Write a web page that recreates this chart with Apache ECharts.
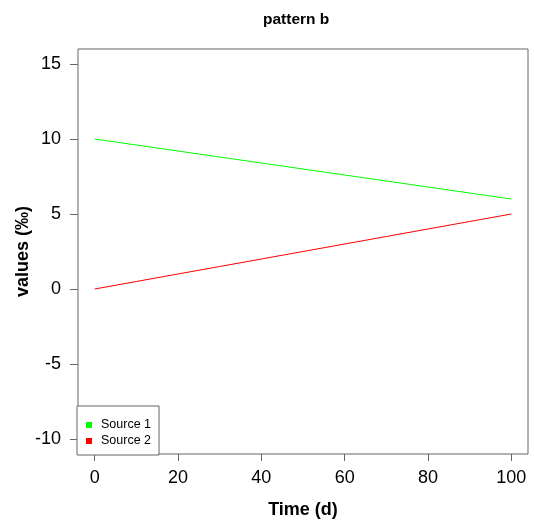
<!DOCTYPE html>
<html><head><meta charset="utf-8">
<script src="https://cdn.jsdelivr.net/npm/echarts@6/dist/echarts.min.js"></script>
<style>html,body{margin:0;padding:0;background:#fff}#c{width:534px;height:526px}</style>
</head><body><div id="c"></div>
<script>
const timeDays = [0, 10, 20, 30, 40, 50, 60, 70, 80, 90, 100];
const source1 = [10, 9.6, 9.2, 8.8, 8.4, 8.0, 7.6, 7.2, 6.8, 6.4, 6.0];
const source2 = [0, 0.5, 1.0, 1.5, 2.0, 2.5, 3.0, 3.5, 4.0, 4.5, 5.0];
const xTicks = [0, 20, 40, 60, 80, 100];
const yTicks = [-10, -5, 0, 5, 10, 15];
const seriesNames = ['Source 1', 'Source 2'];
const seriesColors = ['#00FF00', '#FF0000'];

const FONT = '"Liberation Sans", Arial, sans-serif';
const chart = echarts.init(document.getElementById('c'), null, {renderer: 'canvas'});
const pair = (xs, ys) => xs.map((x, i) => [x, ys[i]]);
chart.setOption({
  animation: false,
  backgroundColor: '#fff',
  title: {
    text: 'pattern b', left: 263, top: 12, padding: 0,
    textStyle: {fontFamily: FONT, fontSize: 15.5, fontWeight: 'bold', color: '#000'}
  },
  grid: {left: 78, right: 6, top: 49, bottom: 72, outerBoundsMode: 'none', containLabel: false,
         show: true, borderColor: '#666', borderWidth: 1, backgroundColor: 'transparent'},
  legend: {
    orient: 'vertical', left: 77, bottom: 71, width: 70,
    data: seriesNames,
    icon: 'rect', itemWidth: 6, itemHeight: 6, itemGap: 2,
    padding: [12, 8, 7, 9],
    borderColor: '#666', borderWidth: 1, backgroundColor: '#fff',
    textStyle: {fontFamily: FONT, fontSize: 12.5, color: '#000', padding: [0, 0, 0, 4], lineHeight: 14}
  },
  xAxis: {
    type: 'value', min: -4, max: 104,
    name: 'Time (d)', nameLocation: 'middle', nameGap: 47, nameMoveOverlap: false,
    nameTextStyle: {fontFamily: FONT, fontSize: 18, fontWeight: 'bold', color: '#000'},
    axisLine: {show: false, onZero: false},
    axisTick: {show: true, length: 7, inside: false, lineStyle: {color: '#666'}, customValues: xTicks},
    axisLabel: {fontFamily: FONT, fontSize: 18, color: '#000', margin: 15, customValues: xTicks},
    splitLine: {show: false}
  },
  yAxis: {
    type: 'value', min: -11, max: 16,
    name: 'values (‰)', nameLocation: 'middle', nameGap: 46, nameRotate: 90, nameMoveOverlap: false,
    nameTextStyle: {fontFamily: FONT, fontSize: 18, fontWeight: 'bold', color: '#000'},
    axisLine: {show: false, onZero: false},
    axisTick: {show: true, length: 8, lineStyle: {color: '#666'}, customValues: yTicks},
    axisLabel: {fontFamily: FONT, fontSize: 18, color: '#000', margin: 17, customValues: yTicks},
    splitLine: {show: false}
  },
  series: [
    {name: seriesNames[0], type: 'line', data: pair(timeDays, source1), showSymbol: false, symbol: 'none',
     itemStyle: {color: seriesColors[0]}, lineStyle: {color: seriesColors[0], width: 1}},
    {name: seriesNames[1], type: 'line', data: pair(timeDays, source2), showSymbol: false, symbol: 'none',
     itemStyle: {color: seriesColors[1]}, lineStyle: {color: seriesColors[1], width: 1}}
  ]
});
</script></body></html>
